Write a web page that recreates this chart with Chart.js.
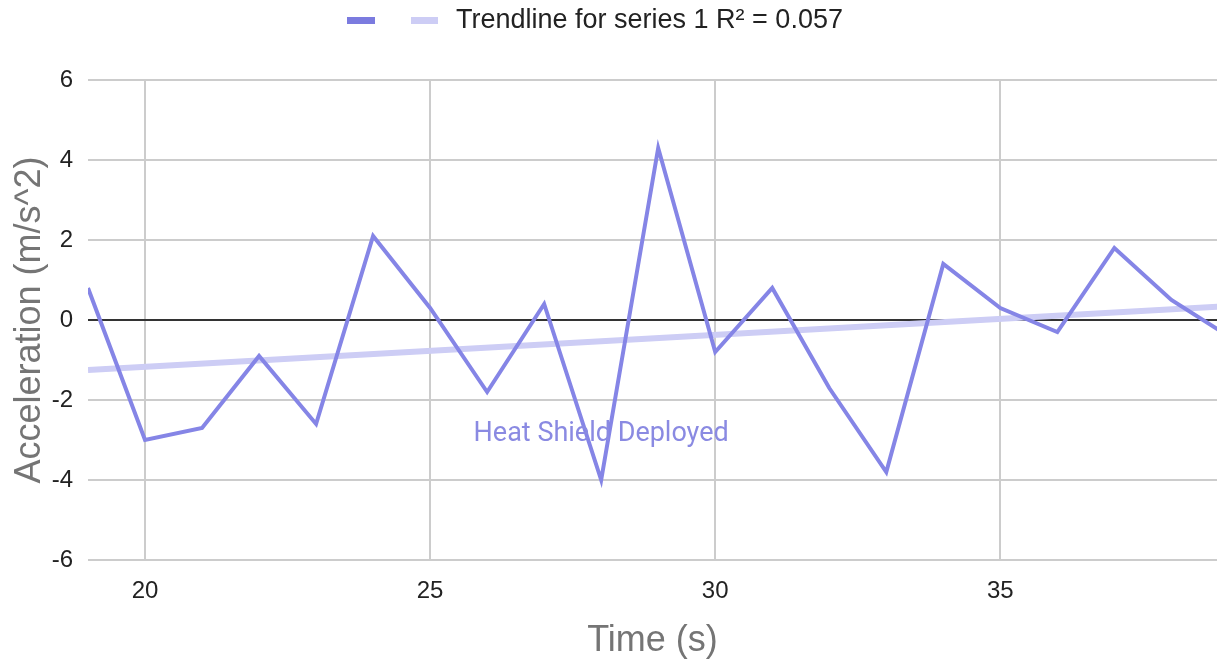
<!DOCTYPE html>
<html>
<head>
<meta charset="utf-8">
<script src="https://cdn.jsdelivr.net/npm/chart.js@4/dist/chart.umd.min.js"></script>
<style>
  html, body { margin: 0; padding: 0; background: #ffffff; }
  #wrap { width: 1217px; height: 665px; position: relative; }
</style>
</head>
<body>
<div id="wrap"><canvas id="chart"></canvas></div>
<script>
// Time in seconds and the measured acceleration at each second
const timeSeconds = [19, 20, 21, 22, 23, 24, 25, 26, 27, 28, 29, 30, 31, 32, 33, 34, 35, 36, 37, 38, 39];
const acceleration = [0.8, -3.0, -2.7, -0.9, -2.6, 2.1, 0.3, -1.8, 0.4, -4.0, 4.3, -0.8, 0.8, -1.7, -3.8, 1.4, 0.3, -0.3, 1.8, 0.5, -0.4];

// Linear trendline end points (time, acceleration)
const trendTime = [19, 39];
const trendValue = [-1.25, 0.35];

// Axis ticks
const xTickValues = [20, 25, 30, 35];
const yTickValues = [-6, -4, -2, 0, 2, 4, 6];

// Texts
const seriesName = '';
const trendName = 'Trendline for series 1 R² = 0.057';
const xTitle = 'Time (s)';
const yTitle = 'Acceleration (m/s^2)';
const noteText = 'Heat Shield Deployed';
const noteTime = 28;
const noteValue = -2.85;

const seriesColor = '#8585e6';
const trendColor = '#cdcdf5';

const seriesPoints = timeSeconds.map((t, i) => ({ x: t, y: acceleration[i] }));
const trendPoints = trendTime.map((t, i) => ({ x: t, y: trendValue[i] }));

// Legend row across the top: a swatch for the series, a swatch and a caption for the trendline
const topLegend = {
  id: 'topLegend',
  afterDraw(chart) {
    const ctx = chart.ctx;
    const ds = chart.data.datasets;
    ctx.save();
    ctx.fillStyle = '#7b7bdf';
    ctx.fillRect(347, 17, 28, 7);
    ctx.fillStyle = ds[0].borderColor;
    ctx.fillRect(411, 17, 27, 7);
    ctx.fillStyle = '#222222';
    ctx.font = '27px "Liberation Sans", Arial, sans-serif';
    ctx.textBaseline = 'middle';
    ctx.textAlign = 'left';
    ctx.fillText(ds[0].label, 456, 21);
    ctx.restore();
  }
};

// Text note placed on the time axis at the deployment moment
const noteLabel = {
  id: 'noteLabel',
  afterDatasetsDraw(chart) {
    const { ctx, scales } = chart;
    const px = scales.x.getPixelForValue(noteTime);
    const py = scales.y.getPixelForValue(noteValue);
    ctx.save();
    ctx.font = '27px Roboto, "Liberation Sans", sans-serif';
    ctx.fillStyle = '#8a8ae2';
    ctx.textAlign = 'center';
    ctx.textBaseline = 'middle';
    ctx.fillText(noteText, px, py);
    ctx.restore();
  }
};

new Chart(document.getElementById('chart'), {
  type: 'line',
  data: {
    datasets: [
      {
        label: trendName,
        data: trendPoints,
        borderColor: trendColor,
        borderWidth: 6,
        pointRadius: 0,
        order: 2
      },
      {
        label: seriesName,
        data: seriesPoints,
        borderColor: seriesColor,
        borderWidth: 4,
        pointRadius: 0,
        tension: 0,
        borderJoinStyle: 'miter',
        order: 1
      }
    ]
  },
  options: {
    responsive: true,
    maintainAspectRatio: false,
    animation: false,
    layout: { padding: { top: 80, right: 0, bottom: 0, left: 0 } },
    plugins: {
      legend: { display: false },
      tooltip: { enabled: false }
    },
    scales: {
      x: {
        type: 'linear',
        min: 19,
        max: 38.8,
        afterBuildTicks(scale) { scale.ticks = xTickValues.map(v => ({ value: v })); },
        afterFit(scale) { scale.height = 105; },
        grid: { color: '#cccccc', lineWidth: 2, drawTicks: false },
        border: { display: false },
        ticks: {
          color: '#222222',
          padding: 17,
          maxRotation: 0,
          font: { family: '"Liberation Sans", Arial, sans-serif', size: 24 }
        },
        title: {
          display: true,
          text: xTitle,
          color: '#757575',
          padding: { top: 0, bottom: 2 },
          font: { family: '"Liberation Sans", Arial, sans-serif', size: 36 }
        }
      },
      y: {
        type: 'linear',
        min: -6,
        max: 6,
        afterBuildTicks(scale) { scale.ticks = yTickValues.map(v => ({ value: v })); },
        afterFit(scale) { scale.width = 88; },
        grid: {
          color: ctx => (ctx.tick && ctx.tick.value === 0 ? '#333333' : '#cccccc'),
          lineWidth: 2,
          drawTicks: false
        },
        border: { display: false },
        ticks: {
          color: '#222222',
          padding: 15,
          font: { family: '"Liberation Sans", Arial, sans-serif', size: 24 }
        },
        title: {
          display: true,
          text: yTitle,
          color: '#757575',
          padding: { top: 8, bottom: 0 },
          font: { family: '"Liberation Sans", Arial, sans-serif', size: 36 }
        }
      }
    }
  },
  plugins: [topLegend, noteLabel]
});
</script>
</body>
</html>
